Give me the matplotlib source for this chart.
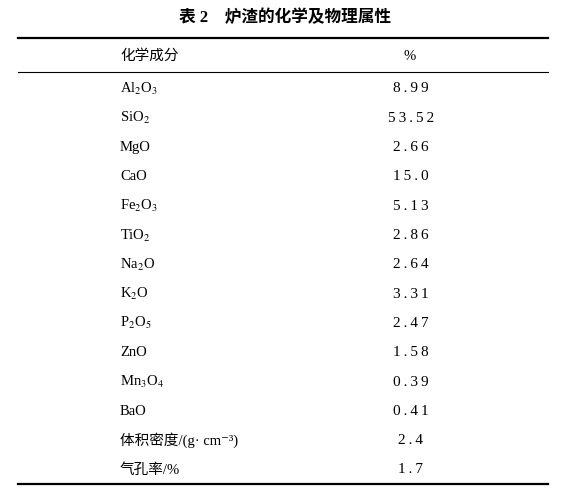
import matplotlib
matplotlib.use("Agg")
import matplotlib.pyplot as plt
from matplotlib.lines import Line2D

plt.rcParams['font.family'] = ['Liberation Serif', 'Noto Sans CJK SC', 'DejaVu Sans']
plt.rcParams['mathtext.fontset'] = 'stix'

title = "表 2　炉渣的化学及物理属性"
headers = ["化学成分", "%"]
components = ["Al$_2$O$_3$", "SiO$_2$", "MgO", "CaO", "Fe$_2$O$_3$", "TiO$_2$",
              "Na$_2$O", "K$_2$O", "P$_2$O$_5$", "ZnO", "Mn$_3$O$_4$", "BaO",
              "体积密度/(g· cm⁻³)", "气孔率/%"]
values = ["8.99", "53.52", "2.66", "15.0", "5.13", "2.86", "2.64", "3.31",
          "2.47", "1.58", "0.39", "0.41", "2.4", "1.7"]

W, H = 570, 494
fig = plt.figure(figsize=(W / 100, H / 100), dpi=100)

def fy(y):
    return 1 - y / H

def hline(y, lw):
    fig.add_artist(Line2D([18 / W, 548 / W], [fy(y), fy(y)], color='black', lw=lw))

fig.text(285 / W, fy(18), title, ha='center', va='center', fontsize=12, fontweight='bold')
hline(38, 1.6)
hline(72, 0.8)
hline(484, 1.6)

fig.text(120 / W, fy(56), headers[0], ha='left', va='center', fontsize=10.5)
fig.text(410 / W, fy(56), headers[1], ha='center', va='center', fontsize=10.5)

y0, dy = 89, 29.3
for i, (c, v) in enumerate(zip(components, values)):
    y = y0 + i * dy
    fig.text(120 / W, fy(y), c, ha='left', va='center', fontsize=10.5)
    fig.text(411 / W, fy(y), "\u2009".join(v), ha='center', va='center',
             fontsize=11)

fig.savefig("out.png", dpi=100, facecolor='white')
